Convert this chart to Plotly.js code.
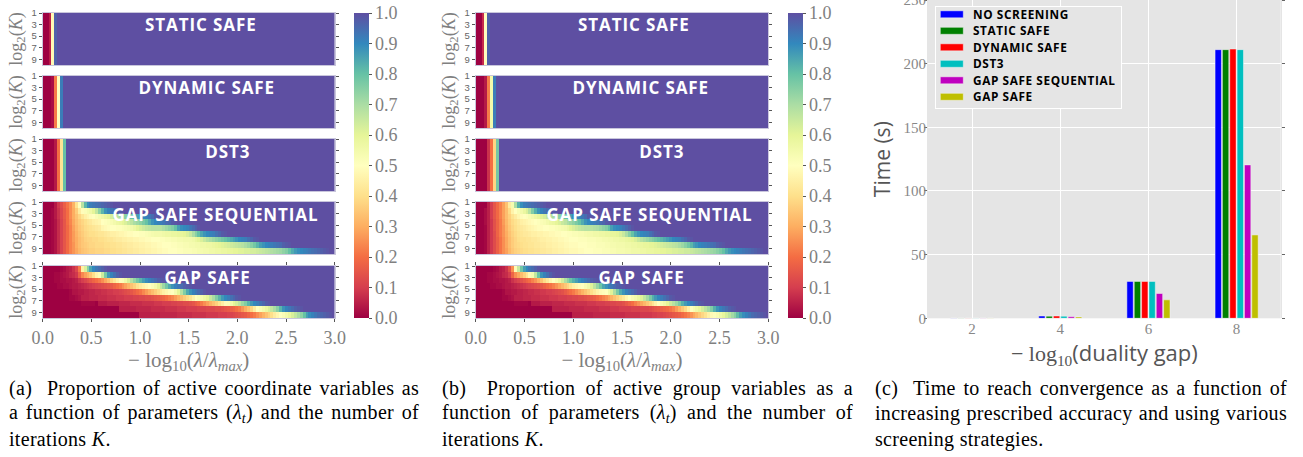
<!DOCTYPE html>
<html><head><meta charset="utf-8">
<script src="https://cdn.plot.ly/plotly-3.0.1.min.js"></script>
<style>html,body{margin:0;padding:0;background:#fff}</style></head><body>
<div id="chart" style="width:1303px;height:457px"></div>
<script>
// ---- data ----
// Leading values of each row; every cell after them reads as 1.0 (fully screened colour)
var staticA=[0,0,.05,.48,.97], dynamicA=[0,0,0,.02,.22,.5,.92], dst3A=[0,0,0,0,.04,.2,.42,.8];
var staticB=[0,0,.07,.5,.97], dynamicB=[0,0,0,.04,.22,.55,.92], dst3B=[0,0,0,0,.08,.2,.38,.78];

var gssA=[
[0,0,0,0,.04,.09,.13,.17,.21,.25, .31,.41,.5,.68,.82,.89,.92,.93,.94,.95, .96,.97,.98,.99],
[0,0,0,.01,.04,.08,.12,.16,.2,.25, .3,.36,.44,.49,.52,.54,.56,.6,.66,.74, .82,.88,.91,.93,.95,.97,.98,.99],
[0,0,0,.01,.04,.08,.12,.16,.2,.25, .3,.34,.38,.42,.45,.47,.49,.5,.52,.54, .56,.58,.6,.63,.66,.68,.7,.72,.75,.78, .8,.83,.86,.89,.9,.91,.93,.95,.98,.99],
[0,0,0,.01,.03,.07,.11,.15,.2,.24, .29,.33,.36,.38,.4,.42,.43,.45,.46,.47, .5,.51,.52,.53,.55,.57,.58,.6,.62,.65, .67,.7,.72,.74,.77,.8,.84,.88,.9,.91, .92,.93,.95,.96,.98,.99],
[0,0,0,.01,.03,.07,.11,.15,.19,.23, .28,.32,.35,.37,.39,.4,.41,.42,.43,.44, .47,.48,.49,.5,.5,.51,.51,.52,.53,.54, .55,.57,.6,.62,.64,.66,.67,.68,.68,.68, .68,.7,.72,.74,.76,.8,.86,.89,.9,.91, .93,.95,.97,.99],
[0,0,0,.01,.03,.07,.11,.15,.19,.23, .27,.31,.34,.36,.38,.39,.4,.4,.41,.42, .42,.43,.44,.45,.45,.46,.47,.47,.48,.49, .49,.5,.5,.51,.51,.52,.53,.54,.55,.55, .55,.56,.57,.57,.58,.58,.59,.59,.6,.62, .65,.7,.75,.8,.85,.88,.9,.91,.92,.94, .96,.98,.99],
[0,0,0,.01,.03,.07,.11,.15,.19,.23, .27,.3,.33,.35,.37,.38,.38,.39,.39,.4, .4,.41,.42,.42,.43,.44,.44,.45,.45,.46, .46,.47,.47,.48,.48,.49,.49,.5,.5,.5, .51,.51,.52,.52,.53,.53,.54,.54,.55,.55, .55,.56,.58,.6,.62,.65,.68,.7,.72,.74, .76,.78,.8,.82,.84,.86,.88,.9,.91,.92, .94,.96,.98,.99],
[0,0,0,.01,.03,.07,.11,.15,.19,.23, .26,.3,.33,.35,.36,.37,.38,.38,.39,.39, .39,.4,.4,.41,.41,.42,.42,.43,.43,.44, .44,.45,.45,.46,.46,.47,.47,.48,.48,.49, .49,.5,.5,.5,.51,.51,.52,.52,.53,.53, .54,.54,.55,.55,.56,.56,.57,.57,.58,.59, .6,.61,.62,.63,.64,.65,.66,.67,.68,.7, .72,.75,.78,.82,.86,.88,.9,.91,.92,.93, .94,.95,.97,.98,.99],
[0,0,0,.01,.03,.07,.11,.15,.19,.23, .26,.29,.32,.34,.35,.36,.37,.37,.38,.38, .38,.39,.39,.4,.4,.41,.41,.42,.42,.43, .43,.44,.44,.45,.45,.46,.46,.47,.47,.48, .48,.49,.49,.5,.5,.5,.51,.51,.52,.52, .52,.53,.53,.54,.54,.55,.55,.56,.56,.57, .57,.58,.58,.59,.59,.6,.6,.61,.61,.62, .62,.63,.63,.64,.65,.66,.67,.68,.69,.7, .71,.72,.74,.76,.8,.84,.87,.89,.9,.91, .92,.93,.94,.95,.96,.97,.98,.99]
];
var gssB=[
[0,0,0,0,.05,.1,.15,.19,.23,.28, .34,.44,.54,.7,.83,.89,.92,.93,.94,.95, .96,.97,.98,.99],
[0,0,0,.02,.05,.1,.15,.19,.23,.28, .33,.39,.46,.5,.53,.55,.58,.62,.68,.76, .83,.88,.91,.93,.95,.97,.98,.99],
[0,0,0,.02,.05,.1,.15,.19,.23,.28, .33,.37,.41,.44,.47,.49,.5,.51,.53,.55, .57,.59,.61,.63,.66,.68,.7,.72,.75,.78, .8,.83,.86,.89,.9,.91,.93,.95,.98,.99],
[0,0,0,.02,.05,.09,.14,.18,.22,.27, .32,.36,.39,.41,.43,.45,.46,.47,.48,.49, .5,.51,.52,.53,.55,.57,.58,.6,.62,.65, .67,.7,.72,.74,.77,.8,.84,.88,.9,.91, .92,.93,.95,.96,.98,.99],
[0,0,0,.01,.05,.09,.14,.18,.22,.26, .31,.35,.38,.4,.42,.43,.44,.45,.46,.47, .48,.49,.49,.5,.5,.51,.51,.52,.53,.54, .55,.57,.6,.62,.64,.66,.67,.68,.68,.68, .69,.7,.72,.74,.76,.8,.86,.89,.9,.91, .93,.95,.97,.99],
[0,0,0,.01,.05,.09,.13,.18,.22,.26, .3,.34,.37,.39,.41,.42,.43,.43,.44,.45, .45,.46,.46,.47,.47,.48,.48,.49,.49,.5, .5,.51,.51,.52,.52,.53,.53,.54,.55,.55, .56,.56,.57,.57,.58,.58,.59,.59,.6,.62, .65,.7,.75,.8,.85,.88,.9,.91,.92,.94, .96,.98,.99],
[0,0,0,.01,.05,.09,.13,.17,.21,.25, .29,.33,.36,.38,.4,.41,.41,.42,.42,.43, .43,.44,.45,.45,.46,.46,.47,.47,.48,.48, .49,.49,.5,.5,.5,.51,.51,.51,.52,.52, .52,.53,.53,.54,.54,.55,.55,.56,.56,.57, .57,.58,.59,.6,.62,.65,.68,.7,.72,.74, .76,.78,.8,.82,.84,.86,.88,.9,.91,.92, .94,.96,.98,.99],
[0,0,0,.01,.05,.09,.13,.17,.21,.25, .29,.33,.36,.38,.39,.4,.41,.41,.42,.42, .43,.43,.44,.44,.45,.45,.46,.46,.47,.47, .48,.48,.49,.49,.49,.5,.5,.5,.51,.51, .51,.52,.52,.52,.53,.53,.54,.54,.55,.55, .55,.56,.56,.57,.57,.58,.58,.59,.59,.6, .6,.61,.62,.63,.64,.65,.66,.67,.68,.7, .72,.75,.78,.82,.86,.88,.9,.91,.92,.93, .94,.95,.97,.98,.99],
[0,0,0,.01,.05,.09,.13,.17,.21,.25, .28,.32,.35,.37,.38,.39,.4,.4,.41,.41, .42,.42,.43,.43,.44,.44,.45,.45,.46,.46, .47,.47,.48,.48,.48,.49,.49,.5,.5,.5, .51,.51,.51,.52,.52,.52,.53,.53,.54,.54, .54,.55,.55,.56,.56,.56,.57,.57,.58,.58, .58,.59,.59,.6,.6,.61,.61,.62,.62,.63, .63,.64,.64,.65,.66,.67,.68,.69,.7,.71, .72,.73,.75,.77,.8,.84,.87,.89,.9,.91, .92,.93,.94,.95,.96,.97,.98,.99]
];
var gsA=[
[0,0,0,0,0,0,.01,.02,.04,.05, .08,.12,.22,.45,.62,.75,.85,.9,.93,.95, .97,.99],
[0,0,0,0,.01,.01,.02,.03,.04,.06, .07,.09,.17,.24,.28,.31,.35,.4,.46,.52, .64,.77,.87,.91,.94,.97,.99],
[0,0,0,0,.01,.01,.02,.02,.03,.03, .04,.05,.08,.1,.12,.14,.16,.18,.2,.22, .25,.29,.33,.38,.42,.46,.49,.52,.56,.62, .68,.73,.78,.82,.86,.89,.91,.93,.95,.97, .98,.99],
[0,0,0,0,0,.01,.01,.02,.02,.03, .04,.04,.05,.06,.07,.08,.09,.1,.11,.12, .13,.14,.15,.16,.18,.2,.22,.25,.28,.31, .34,.37,.41,.44,.46,.48,.5,.52,.55,.6, .66,.72,.78,.84,.88,.91,.93,.95,.97,.98, .99],
[0,0,0,0,0,0,0,0,0,.01, .03,.03,.04,.04,.05,.05,.06,.06,.07,.07, .08,.08,.09,.09,.1,.1,.11,.12,.13,.14, .15,.17,.19,.21,.24,.27,.3,.33,.36,.39, .42,.45,.47,.49,.5,.54,.6,.68,.76,.84, .88,.91,.93,.95,.97,.99],
[0,0,0,0,0,0,0,0,0,.01, .01,.02,.03,.05,.05,.05,.06,.06,.06,.07, .07,.07,.08,.08,.08,.09,.09,.09,.1,.1, .1,.11,.11,.12,.12,.13,.13,.14,.15,.16, .17,.18,.2,.22,.24,.27,.3,.33,.36,.39, .42,.46,.5,.52,.54,.57,.6,.65,.7,.76, .82,.87,.9,.92,.94,.96,.98,.99],
[0,0,0,0,0,0,0,0,0,0, 0,0,0,.01,.01,.01,.01,.01,0,.04, .04,.04,.05,.05,.05,.05,.06,.06,.06,.06, .07,.07,.07,.07,.08,.08,.08,.08,.09,.09, .09,.1,.1,.1,.11,.11,.12,.12,.13,.13, .14,.15,.17,.19,.22,.25,.28,.31,.34,.37, .41,.45,.49,.52,.55,.6,.63,.67,.72,.76, .82,.87,.9,.92,.94,.96,.98,.99],
[0,0,0,0,0,0,0,0,0,0, 0,0,0,0,0,0,0,0,0,0, 0,0,0,0,0,0,.05,.05,.05,.05, .05,.05,.06,.06,.06,.06,.06,.07,.07,.07, .07,.07,.08,.08,.08,.08,.09,.09,.09,.1, .1,.1,.1,.11,.11,.11,.12,.12,.12,.13, .13,.14,.15,.16,.17,.18,.2,.22,.26,.3, .34,.38,.44,.5,.52,.55,.58,.62,.66,.7, .75,.82,.88,.91,.93,.95,.97,.98,.99],
[0,0,0,0,0,0,0,0,0,0, 0,0,0,0,0,0,0,0,0,0, 0,0,0,0,0,0,0,0,0,0, 0,0,0,.05,.05,.05,.05,.05,.05,.05, .06,.06,.06,.06,.06,.06,.07,.07,.07,.07, .07,.08,.08,.08,.08,.08,.09,.09,.09,.09, .1,.1,.1,.11,.11,.12,.13,.14,.15,.16, .18,.2,.22,.25,.28,.31,.34,.37,.4,.44, .47,.5,.52,.55,.58,.62,.66,.7,.74,.8, .86,.89,.91,.93,.95,.96,.97,.98,.99,1]
];
var gsB=[
[0,0,0,0,0,0,.01,.02,.04,.05, .08,.14,.25,.48,.65,.78,.86,.9,.93,.95, .97,.99],
[0,0,0,0,.01,.01,.02,.03,.04,.06, .07,.1,.18,.25,.29,.33,.37,.42,.48,.54, .66,.79,.88,.91,.94,.97,.99],
[0,0,0,0,.01,.01,.02,.02,.03,.03, .04,.05,.08,.1,.12,.14,.16,.18,.2,.23, .26,.3,.34,.39,.43,.47,.5,.53,.57,.63, .69,.74,.79,.83,.86,.89,.91,.93,.95,.97, .98,.99],
[0,0,0,0,0,.01,.01,.02,.02,.03, .04,.04,.05,.06,.07,.08,.09,.1,.11,.12, .13,.14,.15,.17,.19,.21,.23,.26,.29,.32, .35,.38,.42,.45,.47,.49,.5,.53,.56,.61, .67,.73,.79,.85,.88,.91,.93,.95,.97,.98, .99],
[0,0,0,0,0,0,0,0,0,.01, .03,.03,.04,.04,.05,.05,.06,.06,.07,.07, .08,.08,.09,.09,.1,.1,.11,.12,.13,.14, .16,.18,.2,.22,.25,.28,.31,.34,.37,.4, .43,.46,.48,.49,.5,.55,.61,.69,.77,.84, .88,.91,.93,.95,.97,.99],
[0,0,0,0,0,0,0,0,0,.01, .01,.02,.03,.05,.05,.05,.06,.06,.06,.07, .07,.07,.08,.08,.08,.09,.09,.09,.1,.1, .1,.11,.11,.12,.12,.13,.13,.14,.15,.16, .17,.19,.21,.23,.25,.28,.31,.34,.37,.4, .43,.47,.5,.53,.55,.58,.61,.66,.71,.77, .83,.87,.9,.92,.94,.96,.98,.99],
[0,0,0,0,0,0,0,0,0,0, 0,0,0,.01,.01,.01,.01,.01,0,.04, .04,.04,.05,.05,.05,.05,.06,.06,.06,.06, .07,.07,.07,.07,.08,.08,.08,.08,.09,.09, .09,.1,.1,.1,.11,.11,.12,.12,.13,.13, .14,.16,.18,.2,.23,.26,.29,.32,.35,.38, .42,.46,.5,.53,.56,.6,.64,.68,.72,.77, .83,.87,.9,.92,.94,.96,.98,.99],
[0,0,0,0,0,0,0,0,0,0, 0,0,0,0,0,0,0,0,0,0, 0,0,0,0,0,0,.05,.05,.05,.05, .05,.05,.06,.06,.06,.06,.06,.07,.07,.07, .07,.07,.08,.08,.08,.08,.09,.09,.09,.1, .1,.1,.1,.11,.11,.11,.12,.12,.12,.13, .14,.15,.16,.17,.18,.19,.21,.23,.27,.31, .35,.39,.45,.5,.53,.56,.59,.63,.67,.71, .76,.83,.88,.91,.93,.95,.97,.98,.99],
[0,0,0,0,0,0,0,0,0,0, 0,0,0,0,0,0,0,0,0,0, 0,0,0,0,0,0,0,0,0,0, 0,0,0,.05,.05,.05,.05,.05,.05,.05, .06,.06,.06,.06,.06,.06,.07,.07,.07,.07, .07,.08,.08,.08,.08,.08,.09,.09,.09,.09, .1,.1,.11,.11,.12,.13,.14,.15,.16,.17, .19,.21,.23,.26,.29,.32,.35,.38,.41,.45, .48,.51,.53,.56,.59,.63,.67,.71,.75,.81, .86,.89,.91,.93,.95,.96,.97,.98,.99,1]
];

var panelNames=['STATIC SAFE','DYNAMIC SAFE','DST3','GAP SAFE SEQUENTIAL','GAP SAFE'];
var gapTicks=[2,4,6,8];
var noScreening=[.2,1.8,29,211];
var staticSafe=[.2,1.7,29,211];
var dynamicSafe=[.2,1.8,29,211.5];
var dst3=[.2,1.7,29,211];
var gapSequential=[.2,1.2,19.5,120.5];
var gapSafe=[.2,1.1,14.5,65.5];
var barSeries=[['NO SCREENING',noScreening,'#0000ff'],['STATIC SAFE',staticSafe,'#008000'],['DYNAMIC SAFE',dynamicSafe,'#ff0000'],['DST3',dst3,'#00bfbf'],['GAP SAFE SEQUENTIAL',gapSequential,'#bf00bf'],['GAP SAFE',gapSafe,'#bfbf00']];

var spectral=[[0,'#9e0142'],[.1,'#d53e4f'],[.2,'#f46d43'],[.3,'#fdae61'],[.4,'#fee08b'],[.5,'#ffffbf'],[.6,'#e6f598'],[.7,'#abdda4'],[.8,'#66c2a5'],[.9,'#3288bd'],[1,'#5e4fa2']];

// ---- layout helpers (pixel geometry of the page) ----
var W=1303,H=457;
var serif='"Liberation Serif",serif', sans='"Liberation Sans",sans-serif', openSans='"Open Sans",sans-serif';
function dx(p){return p/W} function dy(p){return 1-p/H}
function pad(row){var r=row.slice();while(r.length<100)r.push(1);return r}
function rep(row){var r=[];for(var i=0;i<9;i++)r.push(pad(row));return r}

var panelTops=[[13,65],[76,128],[139,191],[202,254],[266,318]];
var chartLefts=[[42.7,334.7],[475.7,768.3]];
var labelCenters=[[200.5,24.5],[207,88],[228,151],[216,214],[207.5,277]];
var data=[],layout={width:W,height:H,margin:{l:0,r:0,t:0,b:0,pad:0,autoexpand:false},
  paper_bgcolor:'#fff',plot_bgcolor:'#e5e5e5',showlegend:true,font:{family:serif,color:'#777'},annotations:[],bargap:.5,bargroupgap:.13,barmode:'group',
  legend:{x:dx(935),xanchor:'left',y:dy(5.5),yanchor:'top',bgcolor:'#e5e5e5',bordercolor:'#fff',borderwidth:1,font:{family:openSans,size:11.8,color:'#000',weight:700},itemclick:false,tracegroupgap:0}};
var axN=1;
var charts=[[staticA,dynamicA,dst3A,gssA,gsA],[staticB,dynamicB,dst3B,gssB,gsB]];
charts.forEach(function(ch,ci){
  ch.forEach(function(src,pi){
    var z=pi<3?rep(src):src.map(pad);
    var xn=axN===1?'x':'x'+axN, yn=axN===1?'y':'y'+axN, xk='xaxis'+(axN===1?'':axN), yk='yaxis'+(axN===1?'':axN);
    var t={type:'heatmap',z:z,x0:.015,dx:.03,y0:1.5,dy:1,xaxis:xn,yaxis:yn,zmin:0,zmax:1,colorscale:spectral,showscale:pi===0,showlegend:false,hoverinfo:'skip'};
    if(pi===0)t.colorbar={x:dx(ci===0?353.7:787.7),xanchor:'left',xpad:0,y:dy(318),yanchor:'bottom',ypad:0,len:305,lenmode:'pixels',thickness:14.5,thicknessmode:'pixels',outlinewidth:0,
      tickvals:[0,.1,.2,.3,.4,.5,.6,.7,.8,.9,1],ticktext:['0.0','0.1','0.2','0.3','0.4','0.5','0.6','0.7','0.8','0.9','1.0'],ticks:'outside',ticklen:3,tickcolor:'#555',tickfont:{family:serif,size:18,color:'#808080'}};
    data.push(t);
    var L=chartLefts[ci];
    layout[xk]={domain:[dx(L[0]),dx(L[1])],range:[0,3],anchor:yn,tickvals:pi===4?[0,.5,1,1.5,2,2.5,3]:[],ticktext:pi===4?['0.0','0.5','1.0','1.5','2.0','2.5','3.0']:[],
      ticks:pi===4?'outside':'',ticklen:3,tickcolor:'#555',tickfont:{family:serif,size:18,color:'#808080'},showgrid:false,zeroline:false,showline:true,mirror:pi===4?'ticks':true,linecolor:'#c9c6dc',linewidth:1,layer:'above traces'};
    if(pi===4)layout[xk].title={text:'− log<sub>10</sub>(<i>λ</i>/<i>λ<sub>max</sub></i>)',font:{family:serif,size:21,color:'#808080'},standoff:0};
    layout[yk]={domain:[dy(panelTops[pi][1]),dy(panelTops[pi][0])],range:[10,1],anchor:xn,tickvals:[1,3,5,7,9],ticks:'outside',ticklen:3,tickcolor:'#555',tickfont:{family:sans,size:9.5,color:'#666'},
      showgrid:false,zeroline:false,showline:true,mirror:'ticks',linecolor:'#c9c6dc',linewidth:1,title:{text:'log<sub>2</sub>(<i>K</i>)',font:{family:serif,size:18,color:'#808080'},standoff:4}};
    var c=labelCenters[pi];
    layout.annotations.push({xref:'paper',yref:'paper',x:dx(c[0]+(ci?433.5:0)),y:dy(c[1]),xanchor:'center',yanchor:'middle',showarrow:false,text:panelNames[pi],font:{family:openSans,size:17,color:'#fff',weight:700}});
    axN++;
  });
});
// bars
var xb='x'+axN,yb='y'+axN;
barSeries.forEach(function(s){data.push({type:'bar',name:s[0],x:gapTicks,y:s[1],xaxis:xb,yaxis:yb,marker:{color:s[2],line:{color:'#f4f4f4',width:.5}},hoverinfo:'skip'})});
layout['xaxis'+axN]={domain:[dx(928),dx(1280.7)],range:[1,9],anchor:yb,tickvals:gapTicks,ticks:'',tickfont:{family:serif,size:15,color:'#888'},showgrid:true,gridcolor:'#fff',gridwidth:1,zeroline:false,showline:false,
  title:{text:'<span style="font-family:\'Liberation Serif\'">− log<sub>10</sub></span>(duality gap)',font:{family:openSans,size:22,color:'#555'},standoff:0}};
layout['yaxis'+axN]={domain:[dy(318.3),dy(0)],range:[0,250],anchor:xb,tickvals:[0,50,100,150,200,250],ticks:'outside',ticklen:3,tickcolor:'#666',tickfont:{family:serif,size:15,color:'#888'},ticklabeloverflow:'allow',ticklabelstandoff:-5,showgrid:true,gridcolor:'#fff',gridwidth:1,zeroline:false,showline:true,linecolor:'#e5e5e5',mirror:'ticks',
  title:{text:'Time (s)',font:{family:openSans,size:21,color:'#555'},standoff:7}};

// captions: left edge, text centre, text, right edge the justified line reaches (0 = not justified)
var captions=[
 [7,388,'(a)  Proportion of active coordinate variables as',417],
 [7,413,'a function of parameters (<i>λ<sub>t</sub></i>) and the number of',417],
 [7,439,'iterations <i>K</i>.',0],
 [440,388,'(b)  Proportion of active group variables as a',851],
 [440,413,'function of parameters (<i>λ<sub>t</sub></i>) and the number of',851],
 [440,439,'iterations <i>K</i>.',0],
 [873,388,'(c)  Time to reach convergence as a function of',1285],
 [873,413,'increasing prescribed accuracy and using various',1285],
 [873,439,'screening strategies.',0]
];
var captionStart=layout.annotations.length;
captions.forEach(function(c){layout.annotations.push({xref:'paper',yref:'paper',x:dx(c[0]),y:dy(c[1]),xanchor:'left',yanchor:'middle',showarrow:false,align:'left',text:c[2],font:{family:serif,size:20,color:'#000'}})});

Plotly.newPlot('chart',data,layout,{displayModeBar:false,responsive:false}).then(function(gd){
  // legend geometry: flatter swatches, tighter rows than Plotly's minimum
  var leg=gd.querySelector('.legend');
  leg.setAttribute('transform','translate(935,5.5)');
  var bg=leg.querySelector('.bg');bg.setAttribute('width',185.7);bg.setAttribute('height',102.5);
  var sb=leg.querySelector('.scrollbox');if(sb)sb.removeAttribute('clip-path');
  leg.querySelectorAll('.traces').forEach(function(t,i){
    t.setAttribute('transform','translate(0,'+(8.8+16.5*i)+')');
    var txt=t.querySelector('.legendtext');if(txt){txt.setAttribute('x',38);txt.style.letterSpacing='0.6px';}
  });
  leg.querySelectorAll('.legendpoints path').forEach(function(p){p.setAttribute('d','M8.3,3.5H-14.7V-3.5H8.3Z')});
  var anns=gd.querySelectorAll('.annotation');
  // panel names are set wider than the font's default spacing
  for(var k=0;k<captionStart;k++){var e=anns[k].querySelector('text');if(e)e.style.letterSpacing='0.9px';}
  // justify caption lines
  captions.forEach(function(c,i){
    var el=anns[captionStart+i].querySelector('text');
    if(!el)return;
    el.style.letterSpacing='0.3px';
    if(c[3]){
      var w=el.getComputedTextLength?el.getComputedTextLength():el.getBBox().width;
      var gaps=(c[2].replace(/<[^>]+>/g,'').match(/ /g)||[]).length;
      el.style.wordSpacing=((c[3]-c[0]-w)/gaps)+'px';
    }
  });
});
</script></body></html>
